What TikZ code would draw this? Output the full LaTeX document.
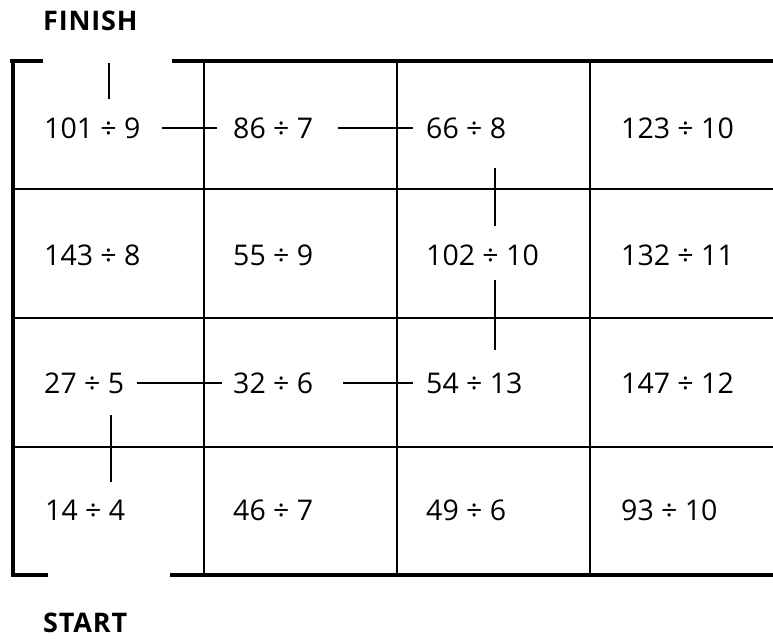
\documentclass[tikz,border=0pt]{standalone}
\usepackage{fontspec}
\setmainfont{Open Sans}
\begin{document}
\begin{tikzpicture}[x=1pt,y=-1pt,
  cell/.style={anchor=west,inner sep=0pt,font=\fontsize{28.5}{32}\selectfont},
  title/.style={anchor=west,inner sep=0pt,font=\fontsize{27}{30}\selectfont\bfseries\addfontfeatures{LetterSpace=3}},
  frame/.style={line width=3.5pt},
  grid/.style={line width=1.8pt},
  route/.style={line width=2.8pt}]
\useasboundingbox (0,0) rectangle (773,640);
% frame
\draw[frame] (10,61) -- (43,61);
\draw[frame] (13,59) -- (13,577);
\draw[frame] (11,575) -- (48,575);
\draw[frame] (172,61) -- (773,61);
\draw[frame] (170,575) -- (773,575);
% inner grid
\foreach \y in {189,318,447} \draw[grid] (13,\y) -- (773,\y);
\foreach \x in {204,397,590} \draw[grid] (\x,61) -- (\x,575);
% titles
\node[title] (finish) at (43,21) {FINISH};
\node[title] (start) at (43,623) {START};
% cells
\node[cell] (a1) at (44,128) {101 ÷ 9};
\node[cell] (a2) at (233,128) {86 ÷ 7};
\node[cell] (a3) at (426,128) {66 ÷ 8};
\node[cell] (a4) at (621,128) {123 ÷ 10};
\node[cell] (b1) at (44,255) {143 ÷ 8};
\node[cell] (b2) at (233,255) {55 ÷ 9};
\node[cell] (b3) at (426,255) {102 ÷ 10};
\node[cell] (b4) at (621,255) {132 ÷ 11};
\node[cell] (c1) at (44,383) {27 ÷ 5};
\node[cell] (c2) at (233,383) {32 ÷ 6};
\node[cell] (c3) at (426,383) {54 ÷ 13};
\node[cell] (c4) at (621,383) {147 ÷ 12};
\node[cell] (d1) at (45,510) {14 ÷ 4};
\node[cell] (d2) at (233,510) {46 ÷ 7};
\node[cell] (d3) at (426,510) {49 ÷ 6};
\node[cell] (d4) at (621,510) {93 ÷ 10};
% route marks
\draw[route] (109,63) -- (109,99);
\draw[route] (162,128) -- (217,128);
\draw[route] (338,128) -- (413,128);
\draw[route] (495,168) -- (495,226);
\draw[route] (495,280) -- (495,350);
\draw[route] (137,383) -- (222,383);
\draw[route] (343,383) -- (413,383);
\draw[route] (111,415) -- (111,482);
\end{tikzpicture}
\end{document}
